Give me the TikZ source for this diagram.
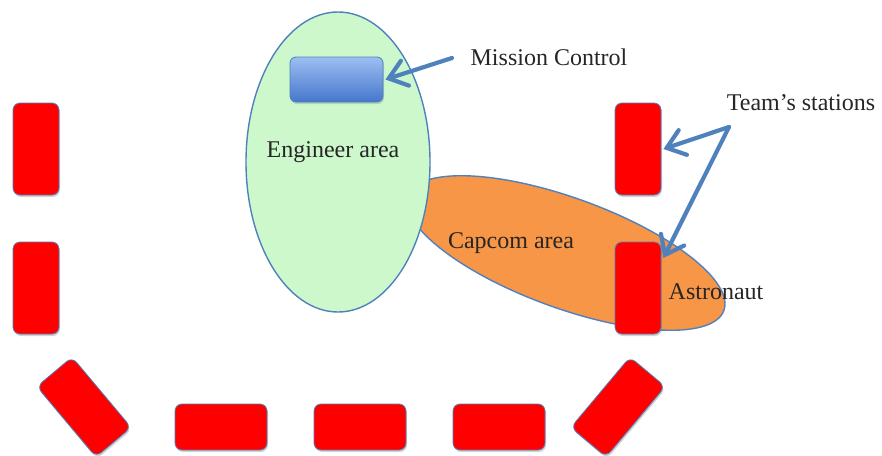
\documentclass[tikz,border=0pt]{standalone}
\usepackage{fontspec}
\setmainfont{Liberation Serif}
\usetikzlibrary{shapes.geometric,shadows,arrows.meta,calc}
\definecolor{edgeblue}{HTML}{4F81BD}
\definecolor{greenfill}{HTML}{CCF8CC}
\definecolor{orangefill}{HTML}{F79646}
\definecolor{txt}{HTML}{262626}
\definecolor{consoletop}{HTML}{9DBEF2}
\definecolor{consolebot}{HTML}{4677CC}
\tikzset{
  station/.style={draw=edgeblue, line width=0.8pt, fill=red, rounded corners=7pt,
    minimum width=46pt, minimum height=92pt, inner sep=0pt,
    drop shadow={shadow xshift=1pt, shadow yshift=-2pt, opacity=0.35}},
  hstation/.style={station, minimum width=92pt, minimum height=46pt},
  area/.style={draw=edgeblue, line width=1.4pt, ellipse, inner sep=0pt},
  lbl/.style={text=txt, font=\fontsize{24}{26}\selectfont, inner sep=0pt},
  ptr/.style={draw=edgeblue, line width=4.2pt, line cap=round, -{Straight Barb[length=17pt,width=26pt,line cap=round]}}
}
\begin{document}
\begin{tikzpicture}[x=1pt,y=-1pt]
\useasboundingbox (0,0) rectangle (882,455);
% areas
\node[area, fill=orangefill, minimum width=336pt, minimum height=110pt, rotate=-20] (capcom) at (566,253) {};
\node[area, fill=greenfill, minimum width=184pt, minimum height=300pt] (eng) at (338,162) {};
% mission control console
\node[draw=edgeblue, line width=0.8pt, rounded corners=6pt, top color=consoletop, bottom color=consolebot,
  minimum width=93pt, minimum height=45pt, inner sep=0pt,
  drop shadow={shadow xshift=1pt, shadow yshift=-2pt, opacity=0.3}] (mc) at (336.5,79.5) {};
% stations
\node[station] (s1) at (36,149) {};
\node[station] (s2) at (36,288) {};
\node[station] (s3) at (638,149) {};
\node[station] (s4) at (638,288) {};
\node[station, rotate=40] (s5) at (84,407) {};
\node[station, rotate=-40] (s9) at (618,407) {};
\node[hstation] (s6) at (221,427) {};
\node[hstation] (s7) at (360,427) {};
\node[hstation] (s8) at (499,427) {};
% labels
\node[lbl] (mctext) at (549,57) {Mission Control};
\node[lbl] (tstext) at (801,103) {Team’s stations};
\node[lbl] (engtext) at (333,152) {Engineer area};
\node[lbl] (captext) at (511,243) {Capcom area};
\node[lbl] (asttext) at (716,292) {Astronaut};
% pointers
\coordinate (mcfrom) at (452,58);
\coordinate (tsfrom) at (729,127);
\draw[ptr] (mcfrom) -- ([xshift=2pt]mc.east);
\draw[ptr] (tsfrom) -- ([xshift=2pt]s3.east);
\draw[ptr] (tsfrom) -- ([xshift=2pt,yshift=30pt]s4.east);
\end{tikzpicture}
\end{document}
